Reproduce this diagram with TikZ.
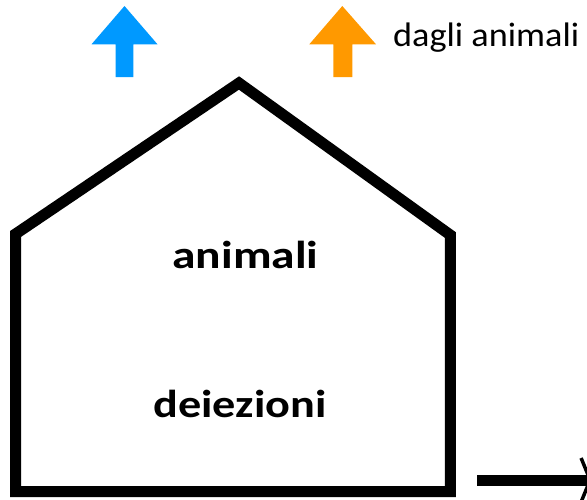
\documentclass[tikz,border=0pt]{standalone}
\usepackage{fontspec}
\setmainfont{Carlito}
\usepackage{graphicx}
\usetikzlibrary{arrows.meta}
\definecolor{upblue}{RGB}{0,153,255}
\definecolor{uporange}{RGB}{255,153,0}
\tikzset{
  wall/.style={line width=11pt, line join=miter, draw=black},
  boldlabel/.style={inner sep=0pt, anchor=base, font=\fontsize{39}{46}\selectfont\bfseries},
  plainlabel/.style={inner sep=0pt, anchor=base west, font=\fontsize{34}{40}\selectfont},
}
\begin{document}
\begin{tikzpicture}[x=1pt,y=-1pt]
\useasboundingbox (0,0) rectangle (587,499);
\clip (0,0) rectangle (587,499);
% blue arrow
\fill[upblue] (124.5,6) -- (157.5,44.3) -- (133.3,44.3) -- (133.3,77) -- (115.7,77) -- (115.7,44.3) -- (91.5,44.3) -- cycle;
% orange arrow
\fill[uporange] (342.3,6) -- (376,44.3) -- (352.3,44.3) -- (352.3,77) -- (333.3,77) -- (333.3,44.3) -- (309.3,44.3) -- cycle;
\node[plainlabel] (dagli) at (393,46) {\resizebox{186pt}{\height}{dagli animali}};
% house
\coordinate (bl) at (15.5,491.5);
\coordinate (tl) at (15.5,234);
\coordinate (apex) at (239,83);
\coordinate (tr) at (450.3,235);
\coordinate (br) at (450.3,491.5);
\draw[wall] (bl) -- (tl) -- (apex) -- (tr) -- (br) -- cycle;
\node[boldlabel] (animali) at (245.5,268) {\resizebox{146pt}{\height}{animali}};
\node[boldlabel] (deiezioni) at (240,417.5) {\resizebox{173pt}{\height}{deiezioni}};
% outgoing arrow
\coordinate (outstart) at (477,480);
\coordinate (outend) at (592,480);
\draw[line width=11pt, -{Straight Barb[length=9pt,width=44pt,line width=3.5pt]}] (outstart) -- (outend);
\end{tikzpicture}
\end{document}
